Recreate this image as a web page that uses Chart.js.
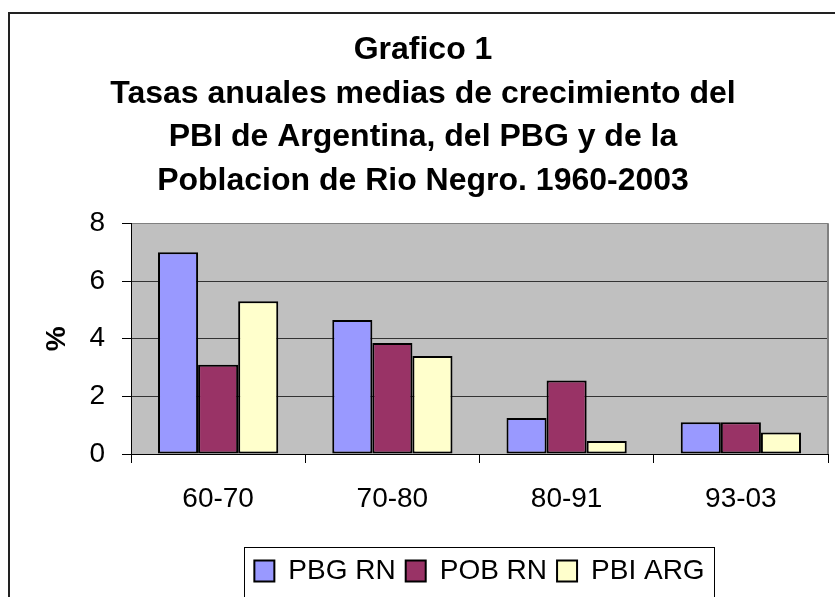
<!DOCTYPE html>
<html>
<head>
<meta charset="utf-8">
<script src="https://cdn.jsdelivr.net/npm/chart.js@4"></script>
<style>
html, body { margin: 0; padding: 0; background: #fff; }
#wrap { position: relative; width: 835px; height: 597px; overflow: hidden; }
#frame { position: absolute; left: 8px; top: 12px; width: 900px; height: 700px; border: 2px solid #222; box-sizing: border-box; }
canvas { position: absolute; left: 0; top: 0; }
</style>
</head>
<body>
<div id="wrap">
  <div id="frame"></div>
  <canvas id="myChart" width="835" height="597"></canvas>
</div>
<script>
const periods = ['60-70', '70-80', '80-91', '93-03'];
const pbgRN = [7.0, 4.65, 1.25, 1.1];
const pobRN = [3.1, 3.85, 2.55, 1.1];
const pbiARG = [5.3, 3.4, 0.45, 0.75];
const yMax = 8;
const yStep = 2;
const titleLines = [
    'Grafico 1',
    'Tasas anuales medias de crecimiento del',
    'PBI de Argentina, del PBG y de la',
    'Poblacion de Rio Negro. 1960-2003'
];

const FONT = 'Arial, "Liberation Sans", sans-serif';

// gray plot area + gray right border
const plotArea = {
    id: 'plotArea',
    beforeDraw(chart) {
        const a = chart.chartArea;
        const c = chart.ctx;
        c.save();
        c.fillStyle = '#C0C0C0';
        c.fillRect(a.left, a.top, a.right - a.left, a.bottom - a.top);
        c.restore();
    },
    beforeDatasetsDraw(chart) {
        const a = chart.chartArea;
        const c = chart.ctx;
        c.save();
        c.strokeStyle = '#808080';
        c.lineWidth = 2;
        c.beginPath();
        c.moveTo(a.right, a.top);
        c.lineTo(a.right, a.bottom);
        c.stroke();
        c.restore();
    }
};

// legend centred under the plot, with a frame round it; title nudged to the frame's centre
const legendFrame = {
    id: 'legendFrame',
    afterLayout(chart) {
        const lg = chart.legend;
        const a = chart.chartArea;
        lg.left = a.left;
        lg.right = a.right;
        lg.width = a.right - a.left;
        lg.top -= 2;
        lg.bottom -= 2;
        if (chart.titleBlock) {
            chart.titleBlock.left += 9;
            chart.titleBlock.right += 9;
        }
    },
    afterDraw(chart) {
        const boxes = chart.legend.legendHitBoxes;
        if (!boxes || !boxes.length) return;
        const l = Math.min(...boxes.map(b => b.left)) - 10;
        const r = Math.max(...boxes.map(b => b.left + b.width)) + 10;
        const c = chart.ctx;
        c.save();
        c.strokeStyle = '#000';
        c.lineWidth = 1;
        c.strokeRect(Math.round(l) + 0.5, chart.legend.top + 0.5, Math.round(r - l), 80);
        c.restore();
    }
};

const ctx = document.getElementById('myChart').getContext('2d');
const myChart = new Chart(ctx, {
    type: 'bar',
    data: {
        labels: periods,
        datasets: [
            {
                label: 'PBG RN',
                data: pbgRN,
                backgroundColor: '#9999FF',
                borderColor: '#000',
                borderWidth: 2,
                borderSkipped: false
            },
            {
                label: 'POB RN',
                data: pobRN,
                backgroundColor: '#993366',
                borderColor: '#000',
                borderWidth: 2,
                borderSkipped: false
            },
            {
                label: 'PBI ARG',
                data: pbiARG,
                backgroundColor: '#FFFFCC',
                borderColor: '#000',
                borderWidth: 2,
                borderSkipped: false
            }
        ]
    },
    options: {
        responsive: false,
        animation: false,
        datasets: {
            bar: { categoryPercentage: 0.69, barPercentage: 1.0 }
        },
        layout: { padding: { left: 0, right: 7, top: 0, bottom: 0 } },
        plugins: {
            title: {
                display: true,
                text: titleLines,
                color: '#000',
                font: { family: FONT, size: 32, weight: 'bold', lineHeight: 1.37 },
                padding: { top: 28, bottom: 20 }
            },
            legend: {
                display: true,
                position: 'bottom',
                labels: {
                    color: '#000',
                    font: { family: FONT, size: 28 },
                    boxWidth: 20,
                    boxHeight: 21,
                    padding: 10
                }
            },
            tooltip: { enabled: false }
        },
        scales: {
            x: {
                grid: {
                    offset: true,
                    drawOnChartArea: false,
                    tickLength: 9,
                    color: '#000',
                    tickColor: '#000'
                },
                border: { color: '#000', width: 1 },
                ticks: {
                    color: '#000',
                    font: { family: FONT, size: 28 },
                    padding: 19
                },
                afterFit(s) { s.height = 95; }
            },
            y: {
                min: 0,
                max: yMax,
                grid: {
                    color: (c) => c.tick && c.tick.value === yMax ? '#808080' : '#333',
                    tickColor: '#000',
                    tickLength: 9
                },
                border: { color: '#000', width: 1 },
                ticks: {
                    stepSize: yStep,
                    color: '#000',
                    font: { family: FONT, size: 28 },
                    padding: 17
                },
                title: {
                    display: true,
                    text: '%',
                    color: '#000',
                    font: { family: FONT, size: 28, weight: 'bold' },
                    padding: { top: 40, bottom: 0 }
                },
                afterFit(s) { s.width = 131; }
            }
        }
    },
    plugins: [plotArea, legendFrame]
});
</script>
</body>
</html>
